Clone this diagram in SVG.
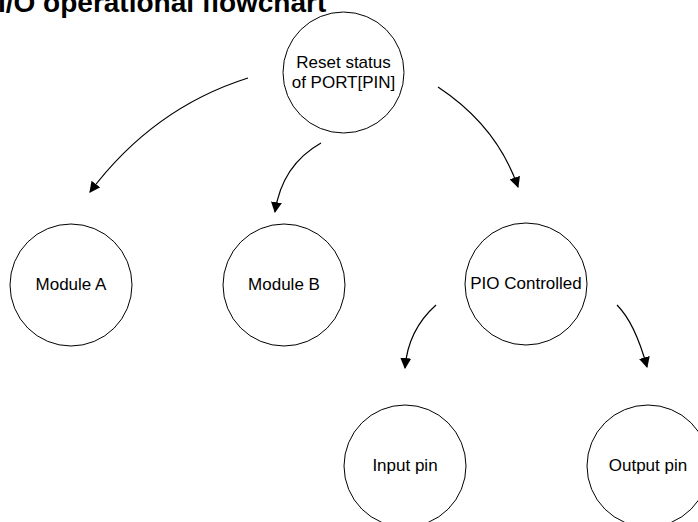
<svg xmlns="http://www.w3.org/2000/svg" width="698" height="522" viewBox="0 0 698 522">
<style>
.node circle{fill:#fff;stroke:#000;stroke-width:1}
.node text{font-family:"Liberation Sans",Arial,sans-serif;font-size:17px;fill:#000;text-anchor:middle}
.title{font-family:"Liberation Sans",Arial,sans-serif;font-size:28px;font-weight:bold;fill:#000}
#connectors path{fill:none;stroke:#000;stroke-width:1.2}
</style>
<defs>
<marker id="arr" viewBox="0 0 10 10" refX="9" refY="5" markerWidth="11" markerHeight="11" markerUnits="userSpaceOnUse" orient="auto">
<path d="M0,0 L10,5 L0,10 Z" fill="#000"/>
</marker>
</defs>
<rect width="698" height="522" fill="#fff"/>
<text class="title" x="-2" y="12">I/O operational flowchart</text>
<g id="reset" class="node"><circle cx="343.5" cy="72.5" r="60.5"/><text x="343.5" y="68">Reset status</text><text x="343.5" y="88">of PORT[PIN]</text></g>
<g id="moduleA" class="node"><circle cx="71" cy="285" r="61"/><text x="71" y="290">Module A</text></g>
<g id="moduleB" class="node"><circle cx="284" cy="285" r="61"/><text x="284" y="290">Module B</text></g>
<g id="pio" class="node"><circle cx="526" cy="284" r="61"/><text x="526" y="289">PIO Controlled</text></g>
<g id="input" class="node"><circle cx="405" cy="466" r="61"/><text x="405" y="471">Input pin</text></g>
<g id="output" class="node"><circle cx="648" cy="466" r="61"/><text x="648" y="471">Output pin</text></g>
<g id="connectors">
<path d="M248,78 Q153,108 90,192" marker-end="url(#arr)"/>
<path d="M321,143 Q282,165 275,212" marker-end="url(#arr)"/>
<path d="M438,87 Q497,126 518,187" marker-end="url(#arr)"/>
<path d="M436,305 Q408,330 405,368" marker-end="url(#arr)"/>
<path d="M617,305 Q635,323 647,367" marker-end="url(#arr)"/>
</g>
</svg>
